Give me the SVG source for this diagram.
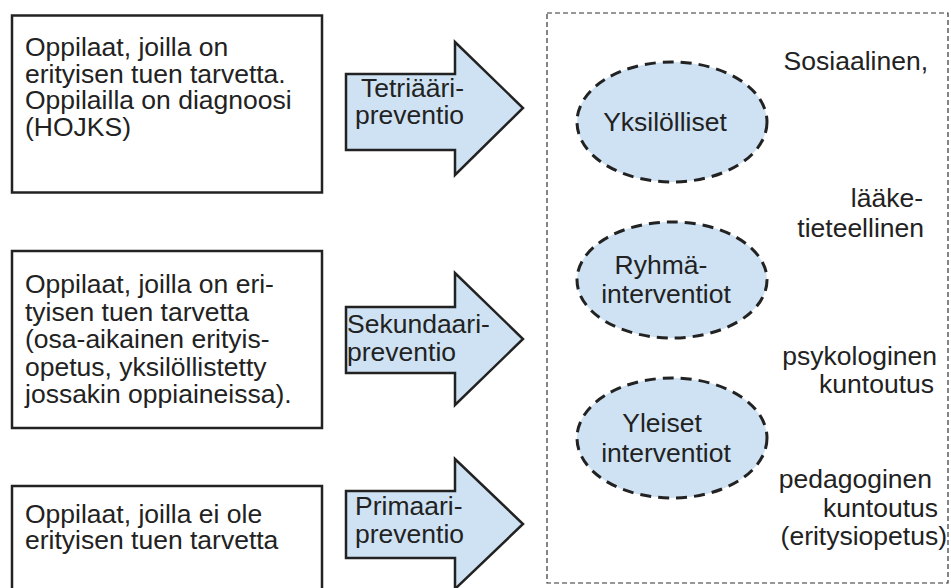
<svg xmlns="http://www.w3.org/2000/svg" width="951" height="588" viewBox="0 0 951 588">
<style>
.box{fill:#fff;stroke:#222;stroke-width:2.5}
.arrow{fill:#cfe2f3;stroke:#222;stroke-width:2.5;stroke-linejoin:miter}
.ell{fill:#cfe2f3;stroke:#222;stroke-width:3;stroke-dasharray:11 7}
.frame{fill:none;stroke:#333;stroke-width:1.2;stroke-dasharray:5 3}
text{font-family:"Liberation Sans",Arial,sans-serif;font-size:26.5px;fill:#222}
.c{text-anchor:middle}
.e{text-anchor:end}
</style>
<rect width="951" height="588" fill="#fff"/>
<g id="frame"><rect class="frame" x="547" y="13" width="401" height="570"/></g>

<g id="box1">
<rect class="box" x="12" y="15.5" width="310" height="177"/>
<text x="25" y="56">Oppilaat, joilla on</text>
<text x="25" y="82.5">erityisen tuen tarvetta.</text>
<text x="25" y="109">Oppilailla on diagnoosi</text>
<text x="25" y="135.5">(HOJKS)</text>
</g>
<g id="box2">
<rect class="box" x="12" y="251" width="310" height="177"/>
<text x="25" y="293">Oppilaat, joilla on eri-</text>
<text x="25" y="320.5">tyisen tuen tarvetta</text>
<text x="25" y="348">(osa-aikainen erityis-</text>
<text x="25" y="375.5">opetus, yksilöllistetty</text>
<text x="25" y="403">jossakin oppiaineissa).</text>
</g>
<g id="box3">
<rect class="box" x="12" y="486" width="310" height="120"/>
<text x="25" y="523">Oppilaat, joilla ei ole</text>
<text x="25" y="549">erityisen tuen tarvetta</text>
</g>

<g id="arrow1">
<polygon class="arrow" points="346,74 455,74 455,42 523,108 455,175 455,150 346,150"/>
<text x="361" y="97">Tetriääri-</text>
<text x="355" y="124">preventio</text>
</g>
<g id="arrow2">
<polygon class="arrow" points="346,307 455,307 455,273 523,339 455,405 455,373 346,373"/>
<text x="347" y="333">Sekundaari-</text>
<text x="347" y="361">preventio</text>
</g>
<g id="arrow3">
<polygon class="arrow" points="346,491 455,491 455,459 523,524 455,589 455,558 346,558"/>
<text x="355" y="515">Primaari-</text>
<text x="355" y="543">preventio</text>
</g>

<g id="ellipse1">
<ellipse class="ell" cx="672" cy="122" rx="95" ry="60"/>
<text class="c" x="665" y="131">Yksilölliset</text>
</g>
<g id="ellipse2">
<ellipse class="ell" cx="672" cy="280" rx="95" ry="58"/>
<text class="c" x="661" y="274">Ryhmä-</text>
<text class="c" x="666" y="303">interventiot</text>
</g>
<g id="ellipse3">
<ellipse class="ell" cx="672" cy="438" rx="95" ry="60"/>
<text class="c" x="662" y="432">Yleiset</text>
<text class="c" x="666" y="462">interventiot</text>
</g>

<g id="labels">
<text class="e" x="928" y="70">Sosiaalinen,</text>
<text class="e" x="923" y="207">lääke-</text>
<text class="e" x="924" y="237">tieteellinen</text>
<text class="e" x="937" y="365">psykologinen</text>
<text class="e" x="934" y="393">kuntoutus</text>
<text class="e" x="932" y="488">pedagoginen</text>
<text class="e" x="938" y="517">kuntoutus</text>
<text class="e" x="947" y="545">(eritysiopetus)</text>
</g>
</svg>
